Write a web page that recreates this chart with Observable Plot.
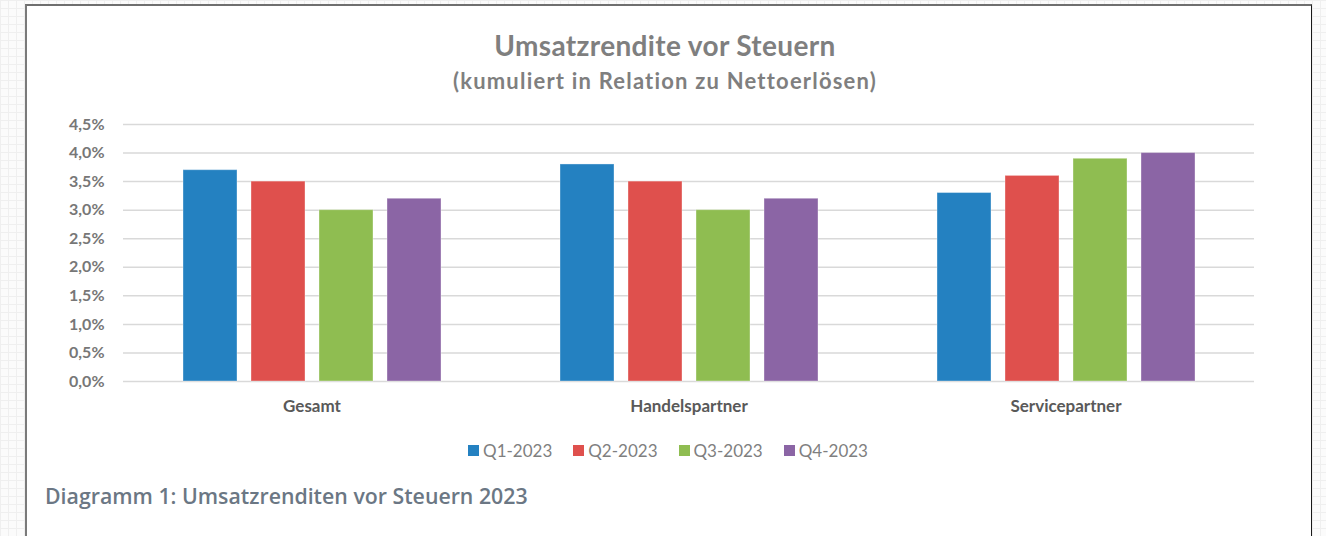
<!DOCTYPE html>
<html><head><meta charset="utf-8">
<script src="https://cdn.jsdelivr.net/npm/d3@7"></script>
<script src="https://cdn.jsdelivr.net/npm/@observablehq/plot@0.6"></script>
<style>
html,body{margin:0;padding:0;width:1326px;height:536px;overflow:hidden;}
body{background-color:#fbfbfb;background-image:linear-gradient(#efefef 1px, transparent 1px),linear-gradient(90deg,#efefef 1px, transparent 1px);background-size:8px 8px;position:relative;}
#box{position:absolute;left:25px;top:4px;width:1284px;height:560px;background:#fff;border-top:2px solid #6f6f6f;border-left:2px solid #7a7a7a;border-right:1.5px solid #1a1a1a;}
#title{position:absolute;left:0;top:28px;width:1330px;text-align:center;font:bold 28px Lato;letter-spacing:0.35px;color:#7f7f7f;}
#subtitle{position:absolute;left:0;top:67px;width:1330px;text-align:center;font:bold 22px Lato;letter-spacing:1.2px;color:#7f7f7f;}
#chart{position:absolute;left:0;top:100px;}
#legend{position:absolute;left:0;top:439px;width:1336px;}
#legend > div{display:flex !important;justify-content:center !important;align-items:center !important;font-family:Lato !important;font-size:17px !important;color:#7f7f7f !important;margin:0 !important;min-height:22px !important;}
#legend > div > span{margin-right:21px !important;display:inline-flex !important;align-items:center !important;}
#legend > div > span:last-child{margin-right:0 !important;}
#legend > div > span > svg{margin-right:4px !important;}
#caption{position:absolute;left:45px;top:481px;font:600 21.3px "Open Sans";color:#6b7784;}
</style></head>
<body>
<div id="box"></div>
<div id="title">Umsatzrendite vor Steuern</div>
<div id="subtitle">(kumuliert in Relation zu Nettoerlösen)</div>
<div id="chart"></div>
<div id="legend"></div>
<div id="caption">Diagramm 1: Umsatzrenditen vor Steuern 2023</div>
<script>
const categories = ["Gesamt", "Handelspartner", "Servicepartner"];
const quarters = ["Q1-2023", "Q2-2023", "Q3-2023", "Q4-2023"];
const q1 = [3.7, 3.8, 3.3];
const q2 = [3.5, 3.5, 3.6];
const q3 = [3.0, 3.0, 3.9];
const q4 = [3.2, 3.2, 4.0];
const colors = ["#2481c1", "#df504d", "#8fbd51", "#8b65a5"];
const yTicks = [0, 0.5, 1, 1.5, 2, 2.5, 3, 3.5, 4, 4.5];
const yTickLabels = ["0,0%", "0,5%", "1,0%", "1,5%", "2,0%", "2,5%", "3,0%", "3,5%", "4,0%", "4,5%"];

const series = [q1, q2, q3, q4];
const data = categories.flatMap((c, i) => series.map((s, j) => ({cat: c, q: quarters[j], v: s[i]})));

const plot = Plot.plot({
  width: 1326, height: 330,
  marginTop: 24, marginBottom: 49, marginLeft: 122, marginRight: 72,
  style: {fontFamily: "Lato", background: "transparent", overflow: "visible"},
  fx: {domain: categories, padding: 0, label: null},
  x: {domain: quarters, paddingInner: 0.21, paddingOuter: 0.877, axis: null},
  y: {domain: [0, 4.5], axis: null},
  color: {domain: quarters, range: colors},
  marks: [
    Plot.gridY(yTicks, {stroke: "#d9d9d9", strokeOpacity: 1, strokeWidth: 1.5}),
    Plot.axisY(yTicks, {tickSize: 0, tickPadding: 19, tickFormat: (d) => yTickLabels[yTicks.indexOf(d)], fontSize: 16, fontWeight: "bold", fill: "#777", label: null}),
    Plot.barY(data, {fx: "cat", x: "q", y: "v", fill: "q", stroke: "#fff", strokeOpacity: 0.35, strokeWidth: 1}),
    Plot.axisFx({anchor: "bottom", tickSize: 0, tickPadding: 18, fontSize: 17, fontWeight: "bold", fill: "#595959", label: null})
  ]
});
document.getElementById("chart").appendChild(plot);

const leg = Plot.legend({color: {domain: quarters, range: colors}, legend: "swatches", swatchSize: 11, className: "lg"});
document.getElementById("legend").appendChild(leg);
</script>
</body></html>
